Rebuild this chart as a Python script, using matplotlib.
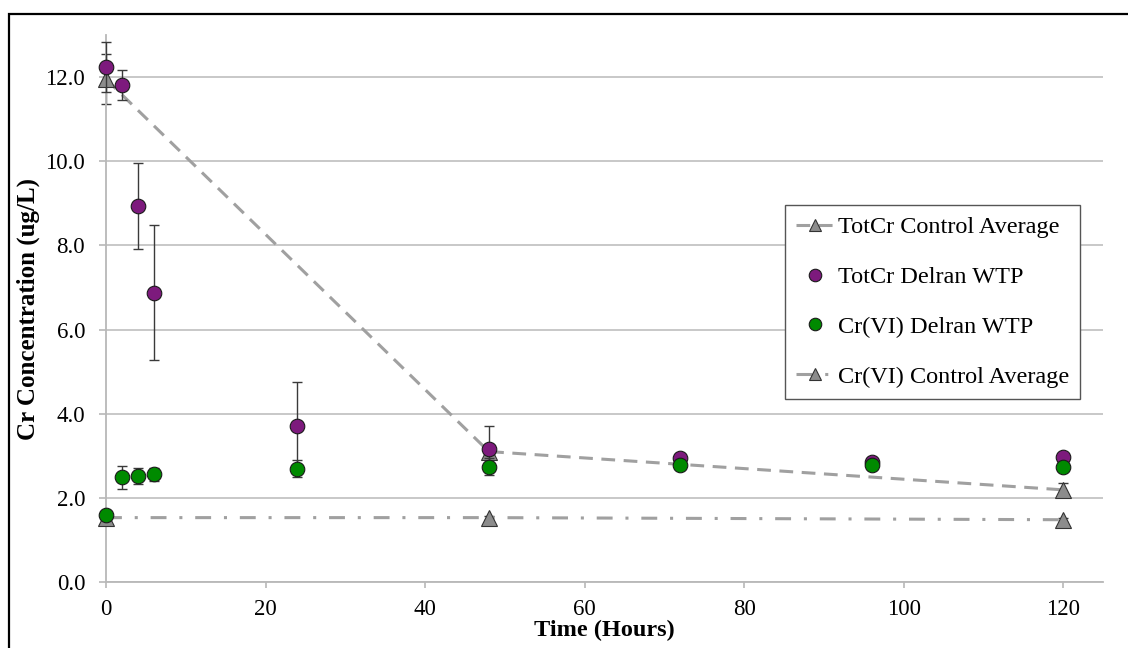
import matplotlib
matplotlib.use("Agg")
import matplotlib.pyplot as plt
from matplotlib.patches import Rectangle

plt.rcParams['font.family'] = ['Liberation Serif', 'DejaVu Serif']

# Sampling times (hours)
hours = [0, 2, 4, 6, 24, 48, 72, 96, 120]
ctrl_hours = [0, 48, 120]

# Total chromium, Delran WTP sample
totcr_delran = [12.24, 11.81, 8.94, 6.88, 3.71, 3.17, 2.95, 2.86, 2.98]
totcr_delran_err = [0.60, 0.36, 1.02, 1.60, 1.05, 0.53, 0.0, 0.0, 0.0]

# Hexavalent chromium, Delran WTP sample
cr6_delran = [1.60, 2.49, 2.52, 2.56, 2.69, 2.74, 2.77, 2.77, 2.74]
cr6_delran_err = [0.08, 0.27, 0.20, 0.15, 0.20, 0.20, 0.0, 0.0, 0.0]

# Control averages
totcr_ctrl = [11.95, 3.10, 2.19]
totcr_ctrl_err = [0.60, 0.12, 0.17]
cr6_ctrl = [1.53, 1.53, 1.48]
cr6_ctrl_err = [0.12, 0.05, 0.05]

fig = plt.figure(figsize=(11.28, 6.48), dpi=100)
ax = fig.add_axes([106/1128, 1 - 582/648, 997/1128, 547/648])

err_kw = dict(fmt="none", ecolor="#3a3a3a", elinewidth=1.0, capsize=3.5,
              capthick=1.0, clip_on=False)
tri_kw = dict(color="#a0a0a0", lw=2.2, marker="^", ms=11, mfc="#8c8c8c",
              mec="#333333", mew=0.8, clip_on=False)
dot_kw = dict(ls="none", marker="o", ms=10.5, mec="#1a1a1a", mew=0.8,
              clip_on=False)

# error bars first, markers drawn over them
ax.errorbar(ctrl_hours, totcr_ctrl, yerr=totcr_ctrl_err, zorder=2.5, **err_kw)
ax.errorbar(ctrl_hours, cr6_ctrl, yerr=cr6_ctrl_err, zorder=2.5, **err_kw)
ax.errorbar(hours, totcr_delran, yerr=totcr_delran_err, zorder=3.5, **err_kw)
ax.errorbar(hours, cr6_delran, yerr=cr6_delran_err, zorder=3.5, **err_kw)

h1, = ax.plot(ctrl_hours, totcr_ctrl, dashes=(4.5, 2.8), zorder=3,
              label="TotCr Control Average", **tri_kw)
h2, = ax.plot(hours, totcr_delran, mfc="#7d1a7d", zorder=4,
              label="TotCr Delran WTP", **dot_kw)
h3, = ax.plot(hours, cr6_delran, mfc="#008a00", zorder=5,
              label="Cr(VI) Delran WTP", **dot_kw)
h4, = ax.plot(ctrl_hours, cr6_ctrl, dashes=(5.2, 4.2, 1.0, 4.2), zorder=3,
              label="Cr(VI) Control Average", **tri_kw)

ax.set_xlim(0, 125)
ax.set_ylim(0, 13)
ax.set_xticks(range(0, 121, 20))
ax.set_yticks([0, 2, 4, 6, 8, 10, 12])
ax.set_yticklabels([f"{v:.1f}" for v in [0, 2, 4, 6, 8, 10, 12]])

ax.grid(axis="y", color="#c4c4c4", lw=1.3)
ax.set_axisbelow(True)
for side in ["top", "right"]:
    ax.spines[side].set_visible(False)
for side in ["left", "bottom"]:
    ax.spines[side].set_color("#b8b8b8")
    ax.spines[side].set_linewidth(1.3)

ax.tick_params(axis="y", length=5, width=1.2, color="#b8b8b8",
               labelsize=16.5, pad=10)
ax.tick_params(axis="x", length=4, width=1.2, color="#b8b8b8",
               labelsize=16.5, pad=8)

ax.set_xlabel("Time (Hours)", fontsize=17.5, fontweight="bold", labelpad=0)
ax.set_ylabel("Cr Concentration (ug/L)", fontsize=18, fontweight="bold",
              labelpad=4)

leg = ax.legend(handles=[h1, h2, h3, h4], loc="upper left",
                bbox_to_anchor=(0.681, 0.689), borderaxespad=0,
                fontsize=17.5, fancybox=False, framealpha=1,
                edgecolor="#555555", labelspacing=1.15, handlelength=1.6,
                handletextpad=0.12, borderpad=0.45)
leg.get_frame().set_linewidth(1.0)
for lh in leg.get_lines():
    lh.set_markersize(9)

# black frame around the figure
fig.add_artist(Rectangle((9/1128, -0.2), 1.2, 0.2 + 1 - 14/648,
                         transform=fig.transFigure, fill=False,
                         edgecolor="black", lw=1.6))

fig.savefig("out.png", dpi=100)
